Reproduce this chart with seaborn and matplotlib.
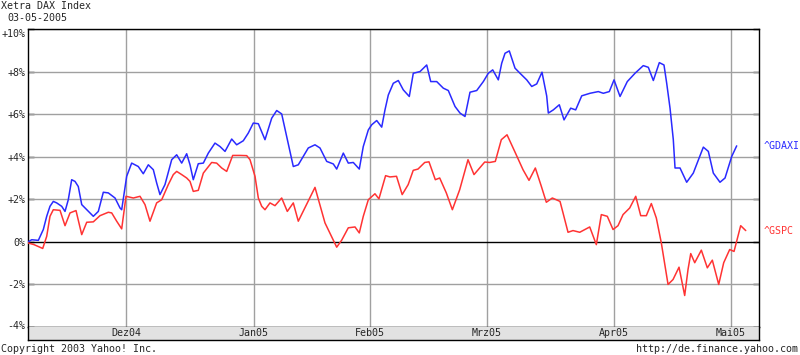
import matplotlib
matplotlib.use("Agg")
import matplotlib.pyplot as plt
import matplotlib.transforms as mtransforms
import numpy as np
import pandas as pd
import seaborn as sns

# ---------------- data (x = trading-day position from start, y = % change) ----------------
title = "Xetra DAX Index"
date_label = "03-05-2005"

gdaxi_day = [0, 0.67, 1.86, 2.76, 3.37, 3.96, 4.56, 5.17, 6.07, 6.67, 7.26, 7.87, 8.47, 9.06,
             9.68, 10.58, 11.77, 12.67, 13.57, 14.47, 15.68, 16.58, 16.88, 17.78, 18.68, 19.87,
             20.77, 21.68, 22.58, 23.18, 23.78, 24.68, 25.89, 26.79, 27.69, 28.59, 29.19, 29.78,
             30.68, 31.59, 32.49, 33.69, 34.59, 35.5, 36.7, 37.6, 38.79, 39.69, 40.59, 41.5,
             42.7, 43.91, 44.81, 45.71, 46.61, 47.8, 48.7, 49.6, 50.5, 51.71, 52.61, 53.82,
             55.01, 55.62, 56.81, 57.71, 58.61, 59.69, 60.41, 61.32, 61.93, 62.83, 63.73, 64.32,
             64.92, 65.82, 66.72, 67.62, 68.7, 69.42, 70.63, 71.84, 72.56, 73.64, 74.83, 75.73,
             76.94, 77.84, 78.74, 79.64, 80.85, 82.04, 82.94, 83.73, 84.74, 85.35, 85.95, 86.72,
             87.75, 88.65, 89.86, 90.76, 91.66, 92.61, 93.46, 93.75, 94.65, 95.73, 96.58, 97.78,
             98.68, 99.77, 101.26, 102.76, 103.66, 104.74, 105.59, 106.67, 107.98, 109.37,
             110.86, 111.77, 112.67, 113.75, 114.59, 115.08, 115.68, 116.27, 116.58, 117.48,
             118.68, 119.87, 121.68, 122.58, 123.48, 124.68, 125.59, 126.79, 127.69]
gdaxi_pct = [0.0, 0.1, 0.07, 0.58, 1.2, 1.67, 1.9, 1.83, 1.67, 1.43, 1.98, 2.92, 2.84, 2.6,
             1.75, 1.51, 1.2, 1.43, 2.33, 2.3, 2.06, 1.59, 1.51, 3.08, 3.7, 3.54,
             3.2, 3.62, 3.39, 2.77, 2.22, 2.69, 3.86, 4.09, 3.7, 4.14, 3.62, 2.92,
             3.67, 3.7, 4.17, 4.64, 4.48, 4.25, 4.83, 4.56, 4.75, 5.11, 5.58, 5.55,
             4.8, 5.81, 6.17, 6.01, 4.95, 3.54, 3.62, 4.01, 4.41, 4.56, 4.41, 3.78,
             3.66, 3.42, 4.17, 3.7, 3.73, 3.42, 4.48, 5.26, 5.5, 5.7, 5.39, 6.2,
             6.9, 7.45, 7.58, 7.14, 6.83, 7.92, 8.0, 8.31, 7.53, 7.53, 7.22, 7.11,
             6.36, 6.05, 5.89, 7.03, 7.11, 7.53, 7.92, 8.08, 7.61, 8.39, 8.86, 8.97,
             8.16, 7.92, 7.61, 7.3, 7.42, 7.97, 6.85, 6.05, 6.2, 6.44, 5.73, 6.28,
             6.2, 6.86, 6.98, 7.06, 6.98, 7.06, 7.61, 6.83, 7.53, 7.92,
             8.28, 8.2, 7.58, 8.42, 8.31, 7.45, 6.28, 4.8, 3.47, 3.47,
             2.8, 3.23, 4.45, 4.25, 3.23, 2.8, 3.0, 4.01, 4.51]

gspc_day = [0, 1.08, 2.65, 3.37, 3.96, 4.56, 5.77, 6.67, 7.57, 8.65, 9.68, 10.58, 11.77, 12.97,
            14.47, 15.08, 15.98, 16.88, 17.66, 18.98, 20.18, 21.08, 21.98, 23.18, 24.09, 25.28,
            26.18, 26.79, 27.69, 28.59, 29.19, 29.78, 30.68, 31.59, 33.09, 33.99, 34.9, 35.8,
            36.88, 38.2, 39.41, 40.0, 40.9, 41.5, 42.11, 42.7, 43.6, 44.5, 45.71, 46.72, 47.8,
            48.7, 51.71, 53.51, 55.62, 56.52, 57.71, 58.92, 59.69, 60.41, 61.32, 62.51, 63.23,
            64.43, 65.21, 66.4, 67.42, 68.5, 69.41, 70.27, 71.48, 72.25, 73.39, 74.18, 75.37,
            76.46, 77.78, 79.28, 80.36, 82.29, 83.19, 84.2, 85.28, 86.31, 87.69, 89.19, 90.27,
            91.41, 92.49, 93.39, 94.47, 95.86, 96.4, 97.3, 98.2, 99.41, 101.21, 102.4, 103.3,
            104.38, 105.41, 106.31, 107.21, 108.41, 109.5, 110.4, 111.41, 112.31, 113.21,
            114.11, 115.32, 116.22, 117.3, 118.32, 118.92, 119.41, 120.13, 121.32, 122.4,
            123.3, 124.45, 125.35, 126.43, 127.21, 128.41, 129.32]
gspc_pct = [-0.05, -0.13, -0.31, 0.26, 1.2, 1.51, 1.48, 0.76, 1.36, 1.47, 0.34, 0.92, 0.94, 1.23,
            1.39, 1.36, 0.97, 0.61, 2.14, 2.06, 2.14, 1.75, 0.97, 1.83, 1.98, 2.69,
            3.16, 3.31, 3.16, 3.0, 2.84, 2.37, 2.42, 3.23, 3.73, 3.7, 3.47, 3.31,
            4.06, 4.06, 4.05, 3.86, 3.08, 2.06, 1.67, 1.51, 1.83, 1.7, 2.06, 1.43, 1.83,
            0.97, 2.56, 0.89, -0.25, 0.08, 0.66, 0.7, 0.42, 1.2, 1.98, 2.26, 2.02,
            3.11, 3.05, 3.08, 2.22, 2.69, 3.36, 3.42, 3.73, 3.76, 2.92, 3.0, 2.3,
            1.51, 2.45, 3.86, 3.16, 3.75, 3.73, 3.78, 4.8, 5.03, 4.25, 3.39, 2.89,
            3.47, 2.61, 1.86, 2.06, 1.9, 1.36, 0.45, 0.53, 0.45, 0.7, -0.13, 1.28,
            1.2, 0.58, 0.76, 1.28, 1.59, 2.14, 1.23, 1.23, 1.8, 1.12,
            -0.05, -2.0, -1.77, -1.19, -2.52, -1.3, -0.55, -0.98, -0.39, -1.22,
            -0.86, -2.0, -0.98, -0.36, -0.45, 0.76, 0.53]

series_names = ["^GDAXI", "^GSPC"]
series_colors = ["#2a2aff", "#ff3333"]

month_labels = ["Dez04", "Jan05", "Feb05", "Mrz05", "Apr05", "Mai05"]
month_pos = [17.66, 40.72, 61.62, 82.70, 105.59, 126.67]
x_range = [0, 131.71]

y_ticks = [-4, -2, 0, 2, 4, 6, 8, 10]
y_tick_labels = ["-4%", "-2%", "0%", "+2%", "+4%", "+6%", "+8%", "+10%"]

copyright_text = "Copyright 2003 Yahoo! Inc."
url_text = "http://de.finance.yahoo.com"

# ---------------- styling ----------------
sns.set_style("white")
plt.rcParams["font.family"] = ["DejaVu Sans Mono", "DejaVu Sans"]
FS = 7.2
GRID = "#a0a0a0"

df = pd.concat([
    pd.DataFrame({"day": gdaxi_day, "pct": gdaxi_pct, "series": series_names[0]}),
    pd.DataFrame({"day": gspc_day, "pct": gspc_pct, "series": series_names[1]}),
], ignore_index=True)

W, H = 800, 355
fig = plt.figure(figsize=(W / 100, H / 100), dpi=100)
fig.patch.set_facecolor("white")

L, R, T, B = 28, 759, 29, 327
ax = fig.add_axes([L / W, 1 - B / H, (R - L) / W, (B - T) / H])
strip = fig.add_axes([L / W, 1 - 340 / H, (R - L) / W, (340 - B) / H], sharex=ax)

# grid lines
for yv in y_ticks:
    if yv == 0:
        continue
    ax.axhline(yv, color=GRID, lw=1.0, zorder=1)
for xv in month_pos:
    ax.axvline(xv, color=GRID, lw=1.0, zorder=1)
ax.axhline(0, color="black", lw=1.0, zorder=2)

sns.lineplot(data=df, x="day", y="pct", hue="series", palette=dict(zip(series_names, series_colors)),
             estimator=None, sort=False, lw=1.1, ax=ax, legend=False, zorder=3)

ax.set_xlim(*x_range)
ax.set_ylim(y_ticks[0], y_ticks[-1])
ax.set_xlabel("")
ax.set_ylabel("")
ax.set_yticks(y_ticks)
ax.set_yticklabels(y_tick_labels, fontsize=FS)
ax.set_xticks(month_pos)
ax.tick_params(axis="x", direction="in", length=5, width=1, color="black",
               top=True, bottom=True, labelbottom=False)
ax.tick_params(axis="y", direction="in", length=4, width=1, color="black",
               left=True, right=True, labelleft=True, pad=2)
for s in ax.spines.values():
    s.set_color("black")
    s.set_linewidth(1.0)

# nudge the extreme tick labels inside the frame like the original
ylabels = ax.get_yticklabels()
ylabels[-1].set_transform(ylabels[-1].get_transform() +
                          mtransforms.ScaledTranslation(0, -4 / 100, fig.dpi_scale_trans))
ylabels[0].set_transform(ylabels[0].get_transform() +
                         mtransforms.ScaledTranslation(0, 2 / 100, fig.dpi_scale_trans))

# right-hand series labels
for name, col, d, p in [(series_names[0], series_colors[0], gdaxi_day, gdaxi_pct),
                         (series_names[1], series_colors[1], gspc_day, gspc_pct)]:
    ax.annotate(name, xy=(1, p[-1]), xycoords=("axes fraction", "data"),
                xytext=(3, 0), textcoords="offset points", color=col,
                fontsize=FS, va="center", ha="left", annotation_clip=False)

# month strip
strip.set_facecolor("#e2e2e2")
strip.set_ylim(0, 1)
strip.set_yticks([])
strip.set_xticks([])
for xv, lab in zip(month_pos, month_labels):
    strip.text(xv, 0.5, lab, ha="center", va="center", fontsize=FS)
for k, s in strip.spines.items():
    s.set_color("black")
    s.set_linewidth(1.0)
strip.spines["top"].set_visible(False)

fig.text(1 / W, 1 - 6 / H, title, fontsize=FS, ha="left", va="center")
fig.text(7 / W, 1 - 18 / H, date_label, fontsize=FS, ha="left", va="center")
fig.text(1 / W, 1 - 349 / H, copyright_text, fontsize=FS, ha="left", va="center")
fig.text(1 - 2 / W, 1 - 349 / H, url_text, fontsize=FS, ha="right", va="center")

fig.savefig("out.png", dpi=100, facecolor="white")
